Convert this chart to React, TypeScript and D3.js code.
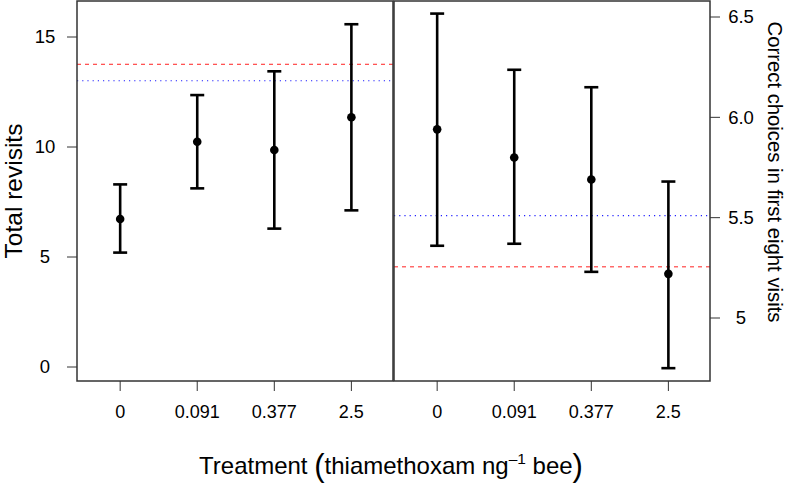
import React from "react";
import * as d3 from "d3";

const treatments = ["0", "0.091", "0.377", "2.5"];

// Left panel: Total revisits
const revisitMean = [6.73, 10.24, 9.86, 11.35];
const revisitLow = [5.2, 8.12, 6.29, 7.12];
const revisitHigh = [8.3, 12.36, 13.44, 15.58];
const revisitRed = 13.76;
const revisitBlue = 13.01;
const revisitTicks = [0, 5, 10, 15];

// Right panel: Correct choices in first eight visits
const correctMean = [5.94, 5.8, 5.69, 5.22];
const correctLow = [5.36, 5.37, 5.23, 4.75];
const correctHigh = [6.517, 6.237, 6.15, 5.68];
const correctRed = 5.255;
const correctBlue = 5.51;
const correctTicks = [5, 5.5, 6.0, 6.5];
const correctTickLabels = ["5", "5.5", "6.0", "6.5"];

const W = 787;
const H = 484;
const TOP = 1;
const BOTTOM = 381;
const FONT = "'Liberation Sans', Arial, Helvetica, sans-serif";

type PanelProps = {
  x0: number;
  x1: number;
  y: d3.ScaleLinear<number, number>;
  mean: number[];
  low: number[];
  high: number[];
  red: number;
  blue: number;
};

function Panel({ x0, x1, y, mean, low, high, red, blue }: PanelProps) {
  const x = d3.scaleLinear().domain([0.44, 4.54]).range([x0, x1]);
  const cap = 7;
  return (
    <g>
      <line x1={x0} x2={x1} y1={y(red)} y2={y(red)} stroke="#ff2020" strokeWidth={1} strokeDasharray="4,4" />
      <line x1={x0} x2={x1} y1={y(blue)} y2={y(blue)} stroke="#2020ff" strokeWidth={1.1} strokeDasharray="1.2,4" />
      {mean.map((m, i) => {
        const cx = x(i + 1);
        return (
          <g key={i}>
            <line x1={cx} x2={cx} y1={y(low[i])} y2={y(high[i])} stroke="#000" strokeWidth={2.6} />
            <line x1={cx - cap} x2={cx + cap} y1={y(low[i])} y2={y(low[i])} stroke="#000" strokeWidth={2.6} />
            <line x1={cx - cap} x2={cx + cap} y1={y(high[i])} y2={y(high[i])} stroke="#000" strokeWidth={2.6} />
            <circle cx={cx} cy={y(m)} r={4.3} fill="#000" />
          </g>
        );
      })}
      <rect x={x0} y={TOP} width={x1 - x0} height={BOTTOM - TOP} fill="none" stroke="#333" strokeWidth={1.5} />
      {treatments.map((t, i) => (
        <g key={t}>
          <line x1={x(i + 1)} x2={x(i + 1)} y1={BOTTOM} y2={BOTTOM + 10} stroke="#333" strokeWidth={1} />
          <text x={x(i + 1)} y={418} textAnchor="middle" fontSize={18} fontFamily={FONT} fill="#000">
            {t}
          </text>
        </g>
      ))}
    </g>
  );
}

export default function App() {
  const yL = d3.scaleLinear().domain([0, 15]).range([367, 37]);
  const yR = d3.scaleLinear().domain([5, 6.5]).range([318, 17]);
  const lx0 = 77, lx1 = 393, rx0 = 394, rx1 = 710;
  return (
    <svg width={W} height={H} style={{ position: "absolute", left: 0, top: 0, background: "#fff" }}>
      <rect width={W} height={H} fill="#fff" />
      <Panel x0={lx0} x1={lx1} y={yL} mean={revisitMean} low={revisitLow} high={revisitHigh} red={revisitRed} blue={revisitBlue} />
      <Panel x0={rx0} x1={rx1} y={yR} mean={correctMean} low={correctLow} high={correctHigh} red={correctRed} blue={correctBlue} />
      {/* left axis */}
      {revisitTicks.map((t) => (
        <g key={t}>
          <line x1={lx0 - 10} x2={lx0} y1={yL(t)} y2={yL(t)} stroke="#333" strokeWidth={1} />
          <text x={45} y={yL(t)} dy="0.35em" textAnchor="middle" fontSize={18.5} fontFamily={FONT} fill="#000">
            {t}
          </text>
        </g>
      ))}
      {/* right axis */}
      {correctTicks.map((t, i) => (
        <g key={t}>
          <line x1={rx1} x2={rx1 + 10} y1={yR(t)} y2={yR(t)} stroke="#333" strokeWidth={1} />
          <text x={741} y={yR(t)} dy="0.35em" textAnchor="middle" fontSize={18.5} fontFamily={FONT} fill="#000">
            {correctTickLabels[i]}
          </text>
        </g>
      ))}
      <text transform={`translate(22,191) rotate(-90)`} textAnchor="middle" fontSize={24.5} fontFamily={FONT} fill="#000">
        Total revisits
      </text>
      <text transform={`translate(768,172) rotate(90)`} textAnchor="middle" fontSize={20.3} fontFamily={FONT} fill="#000">
        Correct choices in first eight visits
      </text>
      <text x={391} y={474} textAnchor="middle" fontSize={24} fontFamily={FONT} fill="#000">
        Treatment <tspan fontSize={31} dy={2}>(</tspan>
        <tspan dy={-2}>thiamethoxam ng</tspan>
        <tspan fontSize={15.5} dy={-10}>–1</tspan>
        <tspan dy={10}> bee</tspan>
        <tspan fontSize={31} dy={2}>)</tspan>
      </text>
    </svg>
  );
}
